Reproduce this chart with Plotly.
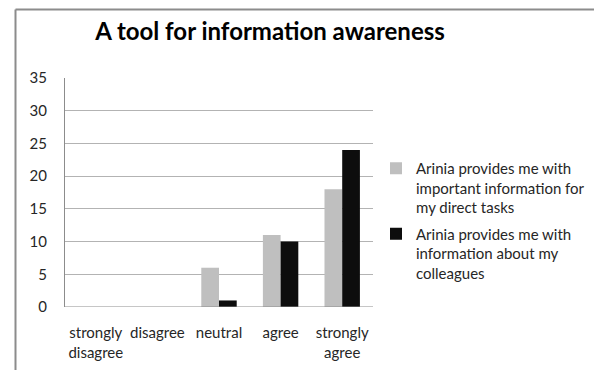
import plotly.graph_objects as go

categories = ["strongly<br>disagree", "disagree", "neutral", "agree", "strongly<br>agree"]
tasks_values = [0, 0, 6, 11, 18]
colleagues_values = [0, 0, 1, 10, 24]
series_names = [
    "Arinia provides me with<br>important information for<br>my direct tasks",
    "Arinia provides me with<br>information about my<br>colleagues",
]
y_ticks = [0, 5, 10, 15, 20, 25, 30, 35]

FONT = "Lato, 'Open Sans', sans-serif"

fig = go.Figure()
fig.add_trace(go.Bar(x=categories, y=tasks_values, name=series_names[0],
                     marker=dict(color="#bfbfbf", line=dict(width=0)),
                     legendgroup="a"))
fig.add_trace(go.Bar(x=categories, y=colleagues_values, name=series_names[1],
                     marker=dict(color="#0d0d0d", line=dict(width=0)),
                     legendgroup="b"))

fig.update_layout(
    width=594, height=370,
    margin=dict(l=65, r=221, t=78, b=63, autoexpand=False),
    paper_bgcolor="white", plot_bgcolor="white",
    barmode="group", bargap=0.425, bargroupgap=0,
    font=dict(family=FONT, size=15, color="#262626"),
    title=dict(text="<b>A tool for information awareness</b>",
               x=270 / 594, xanchor="center", y=1 - 32 / 370, yanchor="middle",
               font=dict(size=24, color="#000000", family=FONT)),
    xaxis=dict(showgrid=False, showline=False, ticks="", ticklabelstandoff=15,
               tickfont=dict(size=15, color="#262626")),
    yaxis=dict(range=[0, 35], tickvals=y_ticks, showgrid=True,
               gridcolor="#b3b3b3", gridwidth=1, zeroline=False,
               showline=True, linecolor="#8c8c8c", linewidth=1,
               ticks="", ticklabelstandoff=14,
               tickfont=dict(size=15, color="#262626")),
    legend=dict(x=(376 - 65) / 308, y=(307 - 152) / 229, xanchor="left", yanchor="top",
                font=dict(size=15, color="#262626"), valign="top",
                tracegroupgap=4, itemwidth=30, bgcolor="rgba(0,0,0,0)"),
    showlegend=True,
)

# outer chart frame (top and left edges)
fig.add_shape(type="line", xref="paper", yref="paper",
              x0=(15.5 - 65) / 308, x1=(594 - 65) / 308,
              y0=(307 - 9.5) / 229, y1=(307 - 9.5) / 229,
              line=dict(color="#8c8c8c", width=2))
fig.add_shape(type="line", xref="paper", yref="paper",
              x0=(15.5 - 65) / 308, x1=(15.5 - 65) / 308,
              y0=(307 - 9.5) / 229, y1=(307 - 380) / 229,
              line=dict(color="#8c8c8c", width=2))
# category axis baseline
fig.add_shape(type="line", xref="paper", yref="y", x0=0, x1=1, y0=0, y1=0,
              line=dict(color="#8c8c8c", width=1))

fig.write_html("out.html")
